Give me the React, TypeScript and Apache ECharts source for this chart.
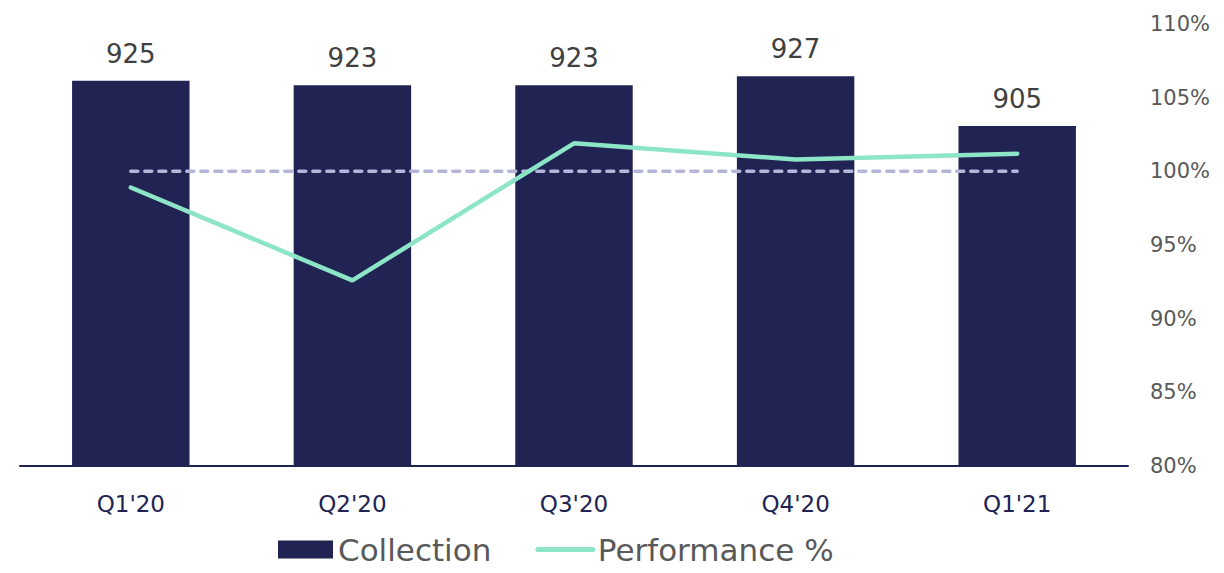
import React, { useEffect, useRef } from "react";
import * as echarts from "echarts";

const categories = ["Q1'20", "Q2'20", "Q3'20", "Q4'20", "Q1'21"];
const collection = [925, 923, 923, 927, 905];
const performance = [98.9, 92.6, 101.9, 100.8, 101.2];
const target = [100, 100, 100, 100, 100];

const FONT = "'DejaVu Sans', 'Open Sans', sans-serif";

export default function App() {
  const ref = useRef<HTMLDivElement>(null);
  useEffect(() => {
    document.body.style.margin = "0";
    const chart = echarts.init(ref.current!, null, { renderer: "svg" });
    chart.setOption({
      animation: false,
      textStyle: { fontFamily: FONT },
      grid: { left: 20, right: 96, top: 24, bottom: 107 },
      legend: {
        bottom: 3,
        left: 273,
        itemGap: 44,
        itemWidth: 55,
        itemHeight: 18,
        textStyle: { fontSize: 31, color: "#595959", fontFamily: FONT },
        data: [
          { name: "Collection", icon: "rect" },
          {
            name: "Performance %",
            itemStyle: { opacity: 0 },
            lineStyle: { width: 5, cap: "round", color: "#8de5c8" },
          },
        ],
      },
      xAxis: {
        type: "category",
        data: categories,
        axisLine: { lineStyle: { color: "#202353", width: 2 } },
        axisTick: { show: false },
        axisLabel: { color: "#202353", fontSize: 23, margin: 26, fontFamily: FONT },
      },
      yAxis: [
        {
          type: "value",
          min: 755,
          max: 950,
          show: false,
          splitLine: { show: false },
        },
        {
          type: "value",
          position: "right",
          min: 80,
          max: 110,
          interval: 5,
          axisLine: { show: false },
          axisTick: { show: false },
          splitLine: { show: false },
          axisLabel: {
            formatter: "{value}%",
            color: "#595959",
            fontSize: 21,
            margin: 22,
            fontFamily: FONT,
          },
        },
      ],
      series: [
        {
          name: "Collection",
          type: "bar",
          data: collection,
          barWidth: "53%",
          itemStyle: { color: "#212453" },
          label: {
            show: true,
            position: "top",
            distance: 14,
            fontSize: 26,
            color: "#404040",
            fontFamily: FONT,
          },
        },
        {
          name: "Target",
          type: "line",
          yAxisIndex: 1,
          data: target,
          symbol: "none",
          lineStyle: { color: "#b3b6d8", width: 3.5, type: [7, 7], cap: "round" },
          z: 3,
        },
        {
          name: "Performance %",
          type: "line",
          yAxisIndex: 1,
          data: performance,
          symbol: "none",
          itemStyle: { color: "#8de5c8" },
          lineStyle: { color: "#8de5c8", width: 4.5, cap: "round" },
          z: 4,
        },
      ],
    });
    return () => chart.dispose();
  }, []);
  return <div ref={ref} style={{ width: 1224, height: 573 }} />;
}
